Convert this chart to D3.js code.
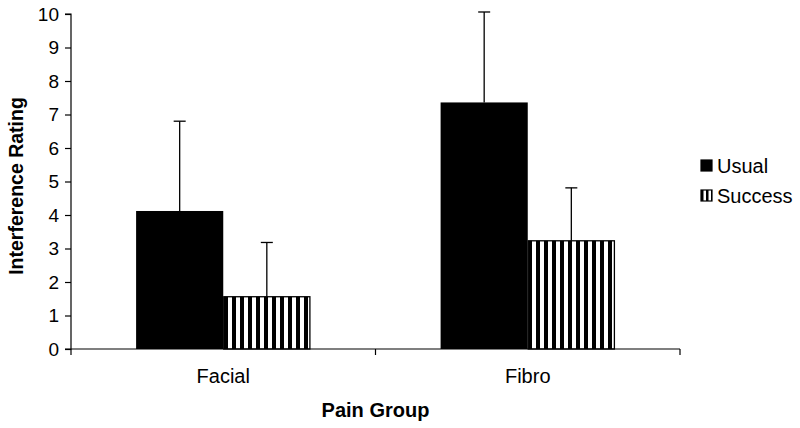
<!DOCTYPE html>
<html>
<head>
<meta charset="utf-8">
<script src="https://cdn.jsdelivr.net/npm/d3@7/dist/d3.min.js"></script>
<style>
  body { margin: 0; background: #fff; }
  svg text { font-family: "Liberation Sans", Arial, sans-serif; fill: #000; }
</style>
</head>
<body>
<svg id="chart" width="800" height="428"></svg>
<script>
// data
const groups = ['Facial', 'Fibro'];
const series = ['Usual', 'Success'];
const usualMeans = [4.12, 7.36];
const usualErr = [2.68, 2.70];
const successMeans = [1.56, 3.23];
const successErr = [1.62, 1.58];
const yTicks = [0, 1, 2, 3, 4, 5, 6, 7, 8, 9, 10];

const svg = d3.select('#chart');
const M = { left: 71, right: 120, top: 14, bottom: 79 };
const W = 800, H = 428;

const x = d3.scaleBand().domain(groups).range([M.left, W - M.right]).paddingInner(0).paddingOuter(0);
const x1 = d3.scaleBand().domain(series).range([0, x.bandwidth()]).paddingOuter(0.747).paddingInner(0);
const y = d3.scaleLinear().domain([0, 10]).range([H - M.bottom, M.top]);

// stripe pattern for "Success"
const defs = svg.append('defs');
const pat = defs.append('pattern').attr('id', 'stripes')
  .attr('patternUnits', 'userSpaceOnUse').attr('width', 8).attr('height', 8);
pat.append('rect').attr('width', 8).attr('height', 8).attr('fill', '#fff');
pat.append('rect').attr('x', 0).attr('width', 4).attr('height', 8).attr('fill', '#000');
const patL = defs.append('pattern').attr('id', 'stripesL')
  .attr('patternUnits', 'userSpaceOnUse').attr('width', 5).attr('height', 12);
patL.append('rect').attr('width', 5).attr('height', 12).attr('fill', '#fff');
patL.append('rect').attr('x', 0).attr('width', 2.5).attr('height', 12).attr('fill', '#000');

const rows = groups.map((g, i) => [
  { g, s: 'Usual', v: usualMeans[i], e: usualErr[i] },
  { g, s: 'Success', v: successMeans[i], e: successErr[i] }
]).flat();

// error bars (behind bars)
const eb = svg.append('g').attr('stroke', '#000').attr('stroke-width', 1.3);
rows.forEach(d => {
  const cx = x(d.g) + x1(d.s) + x1.bandwidth() / 2;
  eb.append('line').attr('x1', cx).attr('x2', cx).attr('y1', y(d.v)).attr('y2', y(d.v + d.e));
  eb.append('line').attr('x1', cx - 6).attr('x2', cx + 6).attr('y1', y(d.v + d.e)).attr('y2', y(d.v + d.e));
});

// bars
svg.append('g').selectAll('rect').data(rows).join('rect')
  .attr('x', d => x(d.g) + x1(d.s) + (d.s === 'Success' ? 0.5 : 0))
  .attr('y', d => y(d.v))
  .attr('width', d => x1.bandwidth() - (d.s === 'Success' ? 1 : 0))
  .attr('height', d => y(0) - y(d.v))
  .attr('fill', d => d.s === 'Usual' ? '#000' : 'url(#stripes)')
  .attr('stroke', d => d.s === 'Usual' ? 'none' : '#000')
  .attr('stroke-width', 1.3);

// y axis
const yAxis = svg.append('g').attr('transform', `translate(${M.left},0)`)
  .call(d3.axisLeft(y).tickValues(yTicks).tickSize(6).tickPadding(6).tickFormat(d3.format('d')));
yAxis.select('.domain').attr('stroke-width', 1.2).attr('d', `M-6,${y(0)}H0V${y(10)}H-6`);
yAxis.selectAll('.tick line').attr('stroke-width', 1.2);
yAxis.selectAll('text').style('font-size', '19px');

// x axis
const xAxis = svg.append('g').attr('transform', `translate(0,${y(0)})`);
xAxis.append('line').attr('x1', M.left).attr('x2', W - M.right).attr('stroke', '#000').attr('stroke-width', 1.2);
const edges = [...groups.map(g => x(g)), W - M.right];
xAxis.selectAll('line.tk').data(edges).join('line').attr('class', 'tk')
  .attr('x1', d => d).attr('x2', d => d).attr('y1', 0).attr('y2', 6)
  .attr('stroke', '#000').attr('stroke-width', 1.2);
xAxis.selectAll('text').data(groups).join('text')
  .attr('x', d => x(d) + x.bandwidth() / 2).attr('y', 34)
  .attr('text-anchor', 'middle').style('font-size', '20px').text(d => d);

// axis titles
svg.append('text').attr('x', (M.left + W - M.right) / 2).attr('y', 417)
  .attr('text-anchor', 'middle').style('font-size', '20px').style('font-weight', 'bold').text('Pain Group');
svg.append('text').attr('transform', `translate(23,186) rotate(-90)`)
  .attr('text-anchor', 'middle').style('font-size', '19.5px').style('font-weight', 'bold').text('Interference Rating');

// legend
const lg = svg.append('g').attr('transform', 'translate(701,166)');
series.forEach((s, i) => {
  const row = lg.append('g').attr('transform', `translate(0,${i * 30})`);
  row.append('rect').attr('x', 0).attr('y', -6).attr('width', 11).attr('height', 11)
    .attr('fill', s === 'Usual' ? '#000' : 'url(#stripesL)')
    .attr('stroke', '#000').attr('stroke-width', 1.2);
  row.append('text').attr('x', 16).attr('y', 7).style('font-size', '20px').text(s);
});
</script>
</body>
</html>
